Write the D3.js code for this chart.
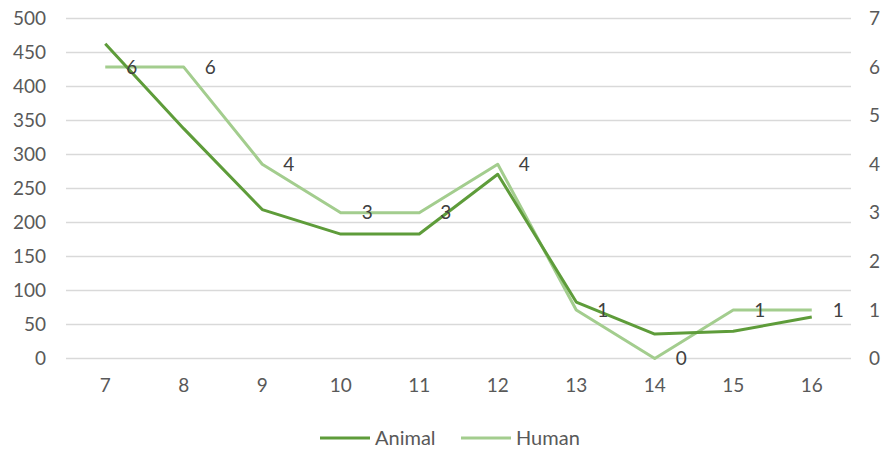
<!DOCTYPE html>
<html>
<head>
<meta charset="utf-8">
<script src="https://cdn.jsdelivr.net/npm/d3@7"></script>
<style>
  body { margin: 0; background: #fff; }
  svg text { font-family: Lato, "Open Sans", sans-serif; }
</style>
</head>
<body>
<div id="chart"></div>
<script>
// chart data
const categories = ['7', '8', '9', '10', '11', '12', '13', '14', '15', '16'];
const animal = [463, 338, 219, 183, 183, 271, 83, 36, 40, 61];
const human = [6, 6, 4, 3, 3, 4, 1, 0, 1, 1];
const leftTicks = [0, 50, 100, 150, 200, 250, 300, 350, 400, 450, 500];
const rightTicks = [0, 1, 2, 3, 4, 5, 6, 7];

const width = 886;
const height = 449;
const margin = {top: 18.5, right: 35, bottom: 90, left: 66};

const svg = d3.select('#chart').append('svg')
    .attr('width', width)
    .attr('height', height);

const x = d3.scaleBand()
    .domain(categories)
    .range([margin.left, width - margin.right]);

const yLeft = d3.scaleLinear()
    .domain([0, 500])
    .range([height - margin.bottom - 0.5, margin.top]);

const yRight = d3.scaleLinear()
    .domain([0, 7])
    .range(yLeft.range());

const cx = d => x(d) + x.bandwidth() / 2;

// gridlines
svg.append('g')
    .selectAll('line')
    .data(leftTicks)
    .join('line')
    .attr('x1', margin.left)
    .attr('x2', width - margin.right)
    .attr('y1', d => yLeft(d))
    .attr('y2', d => yLeft(d))
    .attr('stroke', '#d9d9d9')
    .attr('stroke-width', 1.3);

// left axis
const leftAxis = svg.append('g')
    .attr('transform', `translate(${margin.left - 20},0)`)
    .call(d3.axisLeft(yLeft).tickValues(leftTicks).tickSize(0).tickPadding(0));
leftAxis.select('.domain').remove();

// right axis
const rightAxis = svg.append('g')
    .attr('transform', `translate(${width - margin.right + 18},0)`)
    .call(d3.axisRight(yRight).tickValues(rightTicks).tickFormat(d3.format('d')).tickSize(0).tickPadding(0));
rightAxis.select('.domain').remove();

// bottom axis
const bottomAxis = svg.append('g')
    .attr('transform', `translate(0,${yLeft(0) + 20})`)
    .call(d3.axisBottom(x).tickSize(0).tickPadding(0));
bottomAxis.select('.domain').remove();

svg.selectAll('.tick text')
    .attr('fill', '#595959')
    .style('font-size', '19px')
    .style('font-family', 'Lato, "Open Sans", sans-serif');

// lines
const animalLine = d3.line()
    .x((d, i) => cx(categories[i]))
    .y(d => yLeft(d));

const humanLine = d3.line()
    .x((d, i) => cx(categories[i]))
    .y(d => yRight(d));

svg.append('path')
    .datum(human)
    .attr('d', humanLine)
    .attr('fill', 'none')
    .attr('stroke', '#a3cd8e')
    .attr('stroke-width', 3)
    .attr('stroke-linejoin', 'round');

svg.append('path')
    .datum(animal)
    .attr('d', animalLine)
    .attr('fill', 'none')
    .attr('stroke', '#5e9c3a')
    .attr('stroke-width', 3)
    .attr('stroke-linejoin', 'round');

// data labels for human series
svg.append('g')
    .selectAll('text')
    .data(human)
    .join('text')
    .attr('x', (d, i) => cx(categories[i]) + 21)
    .attr('y', d => yRight(d))
    .attr('dy', '0.35em')
    .attr('fill', '#404040')
    .style('font-size', '19px')
    .text(d => d);

// legend
const legend = svg.append('g');
const legendItems = [
    {name: 'Animal', color: '#5e9c3a', x: 320},
    {name: 'Human', color: '#a3cd8e', x: 461},
];
legendItems.forEach((item) => {
    legend.append('line')
        .attr('x1', item.x)
        .attr('x2', item.x + 50)
        .attr('y1', 438)
        .attr('y2', 438)
        .attr('stroke', item.color)
        .attr('stroke-width', 3);
    legend.append('text')
        .attr('x', item.x + 55)
        .attr('y', 438)
        .attr('dy', '0.35em')
        .attr('fill', '#595959')
        .style('font-size', '20px')
        .text(item.name);
});
</script>
</body>
</html>
